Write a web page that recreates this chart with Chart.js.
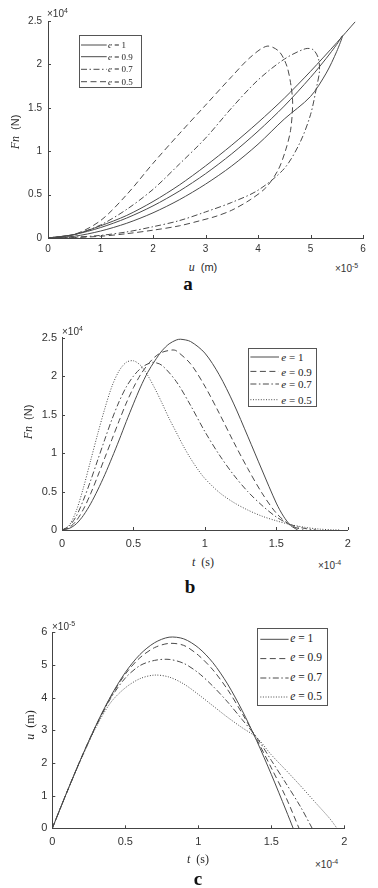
<!DOCTYPE html>
<html><head><meta charset="utf-8">
<script src="https://cdn.jsdelivr.net/npm/chart.js@4/dist/chart.umd.min.js"></script>
<style>
html,body{margin:0;padding:0;background:#fff}
body{position:relative;width:378px;height:888px;overflow:hidden}
canvas{position:absolute;left:0}
.tx{position:absolute;white-space:nowrap;color:#2a2a2a;line-height:1}
.c{transform:translate(-50%,-50%)}
.rot{transform:translate(-50%,-50%) rotate(-90deg)}
.sf{font-family:"Liberation Serif","Times New Roman",serif}
.ss{font-family:"Liberation Sans",Arial,sans-serif}
.exp{font-family:"Liberation Sans",Arial,sans-serif;font-size:10px;color:#333}
.exp sup{font-size:7px;vertical-align:4px}
.lab{font-family:"Liberation Serif",serif;font-weight:bold;font-size:19px;color:#111}
.leg{position:absolute;border:1px solid #555;background:#fff;box-sizing:border-box}
.leg span{position:absolute;white-space:nowrap;line-height:1;transform:translateY(-50%);font-family:"Liberation Serif",serif;color:#222}
</style></head><body>
<canvas id="ca" width="378" height="260" style="top:0"></canvas>
<canvas id="cb" width="378" height="255" style="top:300px"></canvas>
<canvas id="cc" width="378" height="255" style="top:600px"></canvas>

<!-- panel a texts -->
<div class="tx exp" style="left:47px;top:7px">&times;10<sup>4</sup></div>
<div class="tx exp" style="left:335px;top:262px">&times;10<sup>-5</sup></div>
<div class="tx sf c" style="left:203px;top:267px;font-size:12px"><i>u</i>&nbsp;&nbsp;<span class="ss" style="font-size:11px">(m)</span></div>
<div class="tx sf rot" style="left:15px;top:132px;font-size:12px"><i>Fn</i>&nbsp;&nbsp;<span class="ss" style="font-size:11px">(N)</span></div>
<div class="tx lab c" style="left:188px;top:283px">a</div>

<!-- panel b texts -->
<div class="tx exp" style="left:62px;top:325px">&times;10<sup>4</sup></div>
<div class="tx exp" style="left:318px;top:559px">&times;10<sup>-4</sup></div>
<div class="tx sf c" style="left:203px;top:562px;font-size:12px"><i>t</i>&nbsp;&nbsp;(s)</div>
<div class="tx sf rot" style="left:28px;top:422px;font-size:12px"><i>Fn</i>&nbsp;&nbsp;<span class="ss" style="font-size:11px">(N)</span></div>
<div class="tx lab c" style="left:190px;top:586px">b</div>

<!-- panel c texts -->
<div class="tx exp" style="left:52px;top:620px">&times;10<sup>-5</sup></div>
<div class="tx exp" style="left:315px;top:858px">&times;10<sup>-4</sup></div>
<div class="tx sf c" style="left:198px;top:859px;font-size:12px"><i>t</i>&nbsp;&nbsp;(s)</div>
<div class="tx sf rot" style="left:30px;top:725px;font-size:12px"><i>u</i>&nbsp;&nbsp;(m)</div>
<div class="tx lab c" style="left:198px;top:878px">c</div>

<script>
// ---------- DATA ----------
const eLabels = ['1', '0.9', '0.7', '0.5'];

// Panel a: Fn (x1e4 N) versus u (x1e-5 m)
const aU_e1  = [0,0.5,1,1.5,2,2.5,3,3.5,4,4.5,5,5.5,5.85];
const aF_e1  = [0,0.04,0.14,0.26,0.42,0.61,0.83,1.07,1.33,1.61,1.92,2.25,2.49];
const aU_e09 = [0,0.5,1,1.5,2,2.5,3,3.5,4,4.5,5,5.3,5.5,5.61,5.5,5.3,5,4.5,4,3.5,3,2.5,2,1.5,1,0.5,0];
const aF_e09 = [0,0.04,0.12,0.23,0.37,0.54,0.74,0.97,1.23,1.52,1.85,2.07,2.23,2.33,2.15,1.9,1.63,1.37,1.08,0.83,0.62,0.44,0.29,0.17,0.08,0.02,0];
const aU_e07 = [0,0.5,1,1.5,2,2.5,3,3.5,4,4.5,4.9,5.05,5.15,5.17,5.12,5.0,4.8,4.5,4.0,3.5,3.0,2.5,2.0,1.5,1.0,0.5,0];
const aF_e07 = [0,0.04,0.15,0.33,0.56,0.85,1.15,1.5,1.82,2.06,2.18,2.17,2.07,1.92,1.75,1.42,1.1,0.8,0.55,0.41,0.3,0.2,0.13,0.07,0.03,0.01,0];
const aU_e05 = [0,0.5,1,1.5,2,2.5,3,3.5,3.85,4.17,4.4,4.55,4.63,4.66,4.62,4.52,4.38,4.15,3.85,3.5,3.2,2.9,2.5,2,1.5,1,0.5,0];
const aF_e05 = [0,0.04,0.2,0.5,0.86,1.2,1.53,1.86,2.08,2.21,2.15,1.98,1.75,1.55,1.24,1.0,0.78,0.58,0.44,0.32,0.25,0.2,0.14,0.09,0.05,0.02,0.005,0];
const aXTicks = [0,1,2,3,4,5,6];
const aXLabels = ['0','1','2','3','4','5','6'];
const aYTicks = [0,0.5,1,1.5,2,2.5];
const aYLabels = ['0','0.5','1','1.5','2','2.5'];

// Panel b: Fn (x1e4 N) versus t (x1e-4 s)
const bT_e1  = [0,0.05,0.1,0.15,0.2,0.25,0.3,0.35,0.4,0.45,0.5,0.55,0.6,0.65,0.7,0.75,0.8,0.83,0.9,1.0,1.1,1.2,1.3,1.4,1.5,1.55,1.6,1.65];
const bF_e1  = [0,0.02,0.08,0.19,0.34,0.52,0.72,0.94,1.17,1.41,1.64,1.86,2.05,2.2,2.33,2.42,2.47,2.48,2.45,2.3,2.02,1.65,1.22,0.78,0.35,0.18,0.06,0];
const bT_e09 = [0,0.05,0.1,0.15,0.2,0.25,0.3,0.35,0.4,0.45,0.5,0.55,0.6,0.65,0.7,0.77,0.8,0.9,1.0,1.1,1.2,1.3,1.4,1.5,1.6,1.69];
const bF_e09 = [0,0.03,0.12,0.27,0.47,0.7,0.94,1.18,1.42,1.65,1.85,2.02,2.15,2.25,2.31,2.34,2.33,2.16,1.87,1.52,1.15,0.8,0.48,0.22,0.06,0];
const bT_e07 = [0,0.05,0.1,0.15,0.2,0.25,0.3,0.35,0.4,0.45,0.5,0.55,0.6,0.64,0.7,0.8,0.9,1.0,1.1,1.2,1.3,1.4,1.5,1.6,1.7,1.78];
const bF_e07 = [0,0.05,0.18,0.39,0.64,0.91,1.18,1.44,1.67,1.86,2.0,2.1,2.16,2.18,2.14,1.93,1.62,1.28,0.98,0.72,0.5,0.32,0.17,0.07,0.02,0];
const bT_e05 = [0,0.05,0.1,0.15,0.2,0.25,0.3,0.35,0.4,0.45,0.5,0.55,0.6,0.65,0.7,0.75,0.8,0.85,0.9,0.95,1.0,1.1,1.2,1.3,1.4,1.5,1.6,1.7,1.8,1.9,1.95];
const bF_e05 = [0,0.06,0.25,0.55,0.9,1.25,1.58,1.87,2.07,2.18,2.2,2.14,2.01,1.84,1.65,1.45,1.27,1.09,0.93,0.79,0.67,0.49,0.36,0.26,0.18,0.12,0.07,0.035,0.012,0.002,0];
const bXTicks = [0,0.5,1,1.5,2];
const bXLabels = ['0','0.5','1','1.5','2'];
const bYTicks = [0,0.5,1,1.5,2,2.5];
const bYLabels = ['0','0.5','1','1.5','2','2.5'];

// Panel c: u (x1e-5 m) versus t (x1e-4 s)
const cT_e1  = [0,0.1,0.2,0.3,0.4,0.5,0.6,0.7,0.8,0.9,1.0,1.1,1.2,1.3,1.4,1.5,1.6,1.65];
const cU_e1  = [0,1.11,2.17,3.16,4.04,4.77,5.32,5.68,5.85,5.8,5.53,5.07,4.42,3.61,2.68,1.65,0.56,0];
const cT_e09 = [0,0.1,0.2,0.3,0.4,0.5,0.6,0.7,0.8,0.9,1.0,1.1,1.2,1.3,1.4,1.5,1.6,1.69];
const cU_e09 = [0,1.11,2.17,3.15,4.02,4.72,5.22,5.53,5.66,5.6,5.3,4.85,4.25,3.52,2.72,1.85,0.95,0];
const cT_e07 = [0,0.1,0.2,0.3,0.4,0.5,0.6,0.7,0.8,0.9,1.0,1.1,1.2,1.3,1.4,1.5,1.6,1.7,1.78];
const cU_e07 = [0,1.1,2.16,3.13,3.98,4.6,4.98,5.14,5.17,5.05,4.76,4.35,3.87,3.33,2.78,2.08,1.38,0.66,0];
const cT_e05 = [0,0.1,0.2,0.3,0.4,0.5,0.6,0.7,0.8,0.9,1.0,1.1,1.2,1.3,1.4,1.5,1.6,1.7,1.8,1.9,1.95];
const cU_e05 = [0,1.1,2.14,3.1,3.85,4.3,4.58,4.69,4.63,4.42,4.1,3.75,3.4,3.08,2.78,2.25,1.78,1.3,0.8,0.3,0];
const cXTicks = [0,0.5,1,1.5,2];
const cXLabels = ['0','0.5','1','1.5','2'];
const cYTicks = [0,1,2,3,4,5,6];
const cYLabels = ['0','1','2','3','4','5','6'];

// ---------- STYLE ----------
const LINE = '#4a4a4a';
const DASH = {solid:[], dashed:[6,3.5], dashdot:[6,2.5,1.5,2.5], dotted:[1,1.6]};
const stylesA = ['solid','solid','dashdot','dashed'];
const stylesBC = ['solid','dashed','dashdot','dotted'];

function pts(xs, ys){ return xs.map((x,i)=>({x:x, y:ys[i]})); }
function ds(xs, ys, style){
  return {data:pts(xs,ys), showLine:true, borderColor:LINE, borderWidth:1,
          borderDash:DASH[style], pointRadius:0, tension:0.3, fill:false};
}

const inTicks = {id:'inTicks', afterDraw(chart){
  const {ctx, chartArea:a, scales:{x,y}} = chart;
  ctx.save(); ctx.strokeStyle='#444'; ctx.lineWidth=1; ctx.beginPath();
  x.ticks.forEach(t=>{const p=Math.round(x.getPixelForValue(t.value))+0.5; ctx.moveTo(p,a.bottom); ctx.lineTo(p,a.bottom-3);});
  y.ticks.forEach(t=>{const p=Math.round(y.getPixelForValue(t.value))+0.5; ctx.moveTo(a.left,p); ctx.lineTo(a.left+3,p);});
  ctx.stroke(); ctx.restore();
}};

function makeChart(id, datasets, o){
  const axis = (ticksArr, labels, min, max, fit, pad) => ({
    type:'linear', min:min, max:max,
    afterBuildTicks: s => { s.ticks = ticksArr.map(v=>({value:v})); },
    afterFit: fit,
    ticks:{callback:(v,i)=>labels[i], font:{family:'Liberation Sans', size:o.fs}, color:'#333',
           padding:pad, maxRotation:0, minRotation:0, autoSkip:false},
    grid:{display:true, drawOnChartArea:false, drawTicks:false},
    border:{display:true, color:'#444', width:1}
  });
  return new Chart(document.getElementById(id), {
    type:'scatter',
    data:{datasets},
    options:{
      responsive:false, animation:false, devicePixelRatio:1,
      layout:{padding:{top:o.pt, right:o.pr, left:0, bottom:0}},
      plugins:{legend:{display:false}, tooltip:{enabled:false}},
      scales:{
        x: axis(o.xt, o.xl, o.xmin, o.xmax, s=>{s.height=o.xh;}, o.xpad),
        y: axis(o.yt, o.yl, o.ymin, o.ymax, s=>{s.width=o.yw;}, o.ypad)
      }
    },
    plugins:[inTicks]
  });
}

makeChart('ca', [
  ds(aU_e1, aF_e1, stylesA[0]), ds(aU_e09, aF_e09, stylesA[1]),
  ds(aU_e07, aF_e07, stylesA[2]), ds(aU_e05, aF_e05, stylesA[3])
], {pt:21, pr:15, xh:22, yw:48, xpad:5, ypad:6, fs:10,
    xt:aXTicks, xl:aXLabels, yt:aYTicks, yl:aYLabels, xmin:0, xmax:6, ymin:0, ymax:2.5});

makeChart('cb', [
  ds(bT_e1, bF_e1, stylesBC[0]), ds(bT_e09, bF_e09, stylesBC[1]),
  ds(bT_e07, bF_e07, stylesBC[2]), ds(bT_e05, bF_e05, stylesBC[3])
], {pt:37.7, pr:30.3, xh:25, yw:62, xpad:7, ypad:5, fs:11,
    xt:bXTicks, xl:bXLabels, yt:bYTicks, yl:bYLabels, xmin:0, xmax:2, ymin:0, ymax:2.5});

makeChart('cc', [
  ds(cT_e1, cU_e1, stylesBC[0]), ds(cT_e09, cU_e09, stylesBC[1]),
  ds(cT_e07, cU_e07, stylesBC[2]), ds(cT_e05, cU_e05, stylesBC[3])
], {pt:32.3, pr:33.7, xh:26.7, yw:52.3, xpad:7, ypad:5, fs:11,
    xt:cXTicks, xl:cXLabels, yt:cYTicks, yl:cYLabels, xmin:0, xmax:2, ymin:0, ymax:6});

// ---------- LEGENDS ----------
function legend(left, top, w, h, rows, fpx, sx0, sx1, tx, styles){
  const box = document.createElement('div'); box.className='leg';
  Object.assign(box.style, {left:left+'px', top:top+'px', width:w+'px', height:h+'px'});
  let svg = `<svg width="${w}" height="${h}" style="position:absolute;left:-1px;top:-1px">`;
  rows.forEach((ry,i)=>{
    svg += `<line x1="${sx0}" x2="${sx1}" y1="${ry}" y2="${ry}" stroke="${LINE}" stroke-width="1" stroke-dasharray="${DASH[styles[i]].join(',') || 'none'}"/>`;
  });
  svg += '</svg>';
  box.innerHTML = svg;
  rows.forEach((ry,i)=>{
    const s = document.createElement('span');
    s.style.left = (tx-1)+'px'; s.style.top = (ry-1)+'px'; s.style.fontSize = fpx+'px';
    s.innerHTML = '<i>e</i> = ' + eLabels[i];
    box.appendChild(s);
  });
  document.body.appendChild(box);
}
legend(79, 35, 63, 53, [10,21.7,34.3,46.7], 9, 2, 27.7, 29, stylesA);
legend(248.3, 348.3, 69, 59, [9,23.4,36,51.7], 11, 2.4, 31, 33, stylesBC);
legend(256.7, 627.7, 71, 78, [11.3,30.6,50,69], 11.5, 3.3, 31.6, 33.5, stylesBC);
</script>
</body></html>
